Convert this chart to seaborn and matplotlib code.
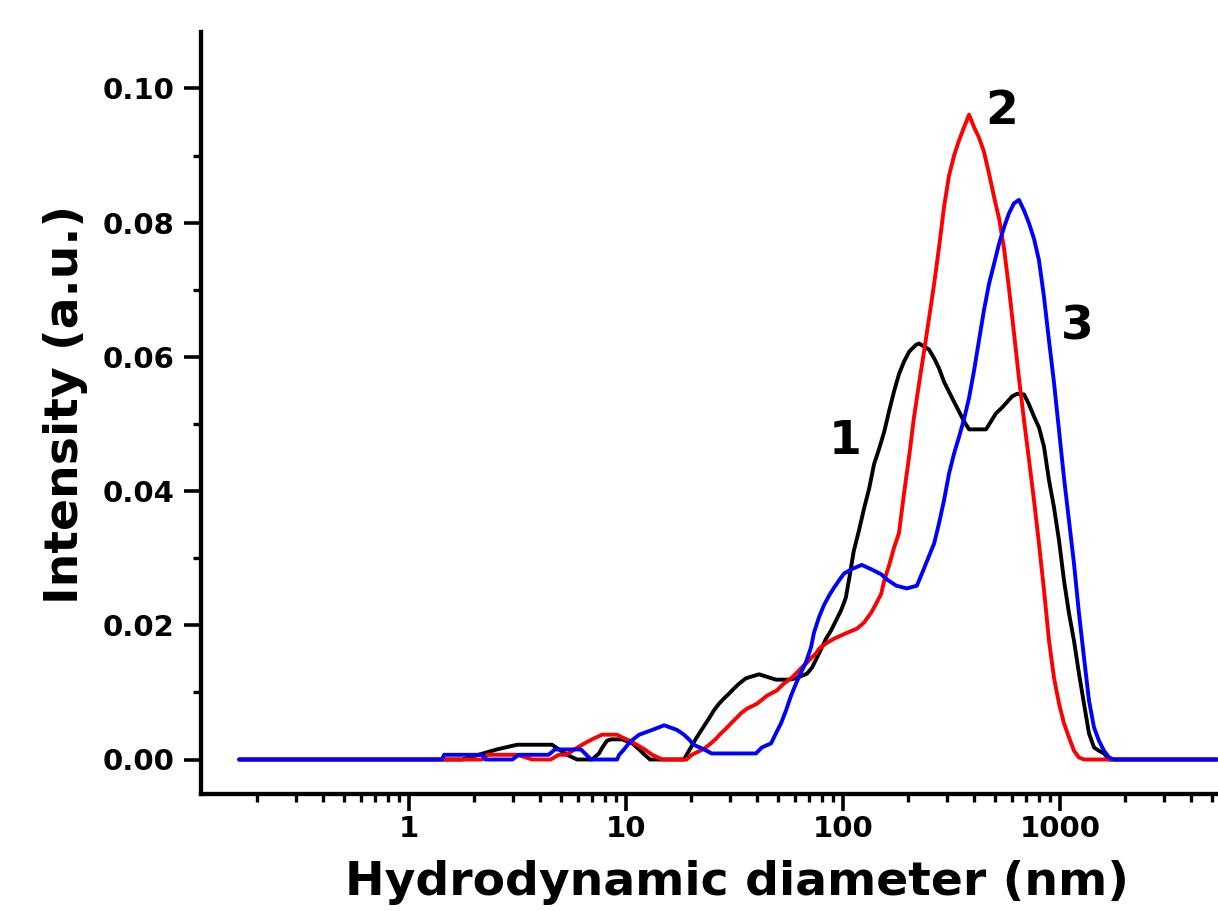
import numpy as np
import pandas as pd
import matplotlib
matplotlib.use("Agg")
import matplotlib.pyplot as plt
import matplotlib.ticker as mticker
import seaborn as sns

# ---------------- data ----------------
d1 = [0.165, 1.42, 1.76, 2.54, 3.15, 4.56, 5.35, 5.95, 6.97, 7.51,
      7.75, 8.17, 8.53, 9.6, 10.7, 11.5, 12.2, 12.9, 14.7, 18.5,
      19.5, 21.0, 22.9, 24.1, 25.4, 26.8, 28.3, 29.8, 31.5, 33.2,
      35.7, 41.0, 49.1, 56.4, 60.7, 68.3, 72.0, 77.5, 83.5, 88.0,
      92.8, 97.9, 103, 107, 112, 119, 125, 132, 139, 147,
      155, 163, 172, 181, 191, 202, 217, 224, 249, 263,
      277, 292, 308, 325, 342, 361, 381, 456, 481, 507,
      535, 564, 601, 634, 683, 720, 759, 800, 844, 890,
      938, 990, 1043, 1100, 1160, 1223, 1290, 1360, 1434, 1512,
      1595, 1682, 5300]
i1 = [0, 0, 0, 0.0015, 0.0022, 0.0022, 0.0007, 0, 0, 0.0009,
      0.0017, 0.0028, 0.0030, 0.0030, 0.0024, 0.0015, 0.0007, 0, 0, 0,
      0.0013, 0.0031, 0.0050, 0.0061, 0.0073, 0.0083, 0.0091, 0.0098, 0.0106, 0.0113,
      0.0121, 0.0127, 0.0119, 0.0119, 0.0121, 0.0128, 0.0137, 0.0158, 0.0180, 0.0192,
      0.0207, 0.0222, 0.0241, 0.0271, 0.0310, 0.0344, 0.0374, 0.0404, 0.0440, 0.0464,
      0.0489, 0.0519, 0.0549, 0.0574, 0.0593, 0.0608, 0.0618, 0.0620, 0.0611, 0.0598,
      0.0583, 0.0563, 0.0548, 0.0533, 0.0519, 0.0504, 0.0492, 0.0492, 0.0504, 0.0516,
      0.0523, 0.0531, 0.0541, 0.0545, 0.0544, 0.0529, 0.0511, 0.0495, 0.0466, 0.0416,
      0.0376, 0.0326, 0.0267, 0.0218, 0.0177, 0.0128, 0.0083, 0.0039, 0.0018, 0.0013,
      0.0009, 0, 0]

d2 = [0.165, 2.17, 2.30, 3.15, 3.7, 4.5, 4.9, 5.3, 6.27, 6.97,
      7.75, 9.09, 9.58, 10.4, 11.2, 12.2, 13.2, 14.7, 19.0, 20.1,
      22.9, 24.6, 26.0, 27.4, 28.9, 30.5, 32.1, 33.9, 36.2, 40.1,
      44.6, 49.6, 53.3, 57.6, 60.7, 64.1, 67.5, 71.2, 75.1, 77.5,
      83.5, 90.9, 103, 116, 125, 135, 142, 150, 155, 163,
      172, 181, 191, 202, 212, 224, 236, 249, 263, 277,
      292, 308, 325, 342, 361, 381, 402, 423, 446, 471,
      497, 524, 552, 582, 614, 647, 683, 720, 759, 800,
      844, 890, 938, 990, 1043, 1100, 1160, 1223, 1290, 5300]
i2 = [0, 0, 0.0007, 0.0007, 0, 0, 0.0007, 0.0007, 0.0022, 0.0030,
      0.0037, 0.0037, 0.0033, 0.0028, 0.0022, 0.0015, 0.0007, 0, 0, 0.0007,
      0.0016, 0.0024, 0.0031, 0.0039, 0.0046, 0.0054, 0.0061, 0.0069, 0.0076, 0.0083,
      0.0095, 0.0103, 0.0113, 0.0121, 0.0128, 0.0136, 0.0143, 0.0151, 0.0158, 0.0165,
      0.0173, 0.0180, 0.0188, 0.0195, 0.0204, 0.0219, 0.0232, 0.0247, 0.0267, 0.0289,
      0.0316, 0.0337, 0.0396, 0.0453, 0.0508, 0.0560, 0.0607, 0.0657, 0.0709, 0.0763,
      0.0823, 0.0870, 0.0900, 0.0922, 0.0942, 0.0961, 0.0942, 0.0927, 0.0906, 0.0873,
      0.0838, 0.0806, 0.0762, 0.0702, 0.0635, 0.0568, 0.0505, 0.0446, 0.0386, 0.0322,
      0.0252, 0.0177, 0.0122, 0.0083, 0.0054, 0.0033, 0.0013, 0.0003, 0, 0]

d3 = [0.165, 1.42, 1.45, 2.17, 2.25, 3.0, 3.2, 4.4, 4.7, 6.2,
      6.9, 9.1, 9.3, 9.8, 10.4, 11.5, 13.2, 15.0, 17.2, 18.5,
      19.5, 20.5, 22.9, 24.8, 39.7, 42.3, 46.6, 49.1, 51.8, 54.6,
      57.6, 60.7, 64.1, 67.5, 71.2, 73.5, 77.5, 81.7, 86.2, 90.9,
      95.9, 101, 110, 122, 136, 150, 160, 176, 197, 219,
      231, 244, 263, 277, 292, 308, 325, 342, 361, 381,
      402, 423, 446, 471, 497, 524, 552, 582, 614, 647,
      683, 720, 759, 800, 844, 890, 938, 990, 1043, 1100,
      1160, 1223, 1290, 1360, 1434, 1512, 1595, 1682, 1770, 5300]
i3 = [0, 0, 0.0007, 0.0007, 0, 0, 0.0007, 0.0007, 0.0015, 0.0015,
      0, 0, 0.0007, 0.0015, 0.0026, 0.0037, 0.0044, 0.0051, 0.0044, 0.0037,
      0.0030, 0.0022, 0.0015, 0.0009, 0.0009, 0.0018, 0.0024, 0.0039, 0.0054, 0.0073,
      0.0095, 0.0113, 0.0130, 0.0145, 0.0167, 0.0189, 0.0212, 0.0230, 0.0244, 0.0256,
      0.0267, 0.0277, 0.0284, 0.0290, 0.0283, 0.0276, 0.0268, 0.0259, 0.0255, 0.0259,
      0.0277, 0.0296, 0.0322, 0.0352, 0.0386, 0.0426, 0.0456, 0.0480, 0.0507, 0.0539,
      0.0580, 0.0624, 0.0669, 0.0709, 0.0739, 0.0769, 0.0793, 0.0814, 0.0829, 0.0834,
      0.0818, 0.0799, 0.0776, 0.0744, 0.0689, 0.0624, 0.0562, 0.0490, 0.0420, 0.0356,
      0.0292, 0.0218, 0.0152, 0.0088, 0.0048, 0.0028, 0.0013, 0.0003, 0, 0]

samples = ["1", "2", "3"]
colors = ["#000000", "#ff0000", "#0000ff"]
x_ticks = [1, 10, 100, 1000]
x_ticklabels = ["1", "10", "100", "1000"]
y_ticks = [0.00, 0.02, 0.04, 0.06, 0.08, 0.10]
y_ticklabels = ["0.00", "0.02", "0.04", "0.06", "0.08", "0.10"]
label_pos = {"1": (102, 0.0474), "2": (540, 0.0966), "3": (1198, 0.0645)}
x_label = "Hydrodynamic diameter (nm)"
y_label = "Intensity (a.u.)"

df = pd.concat([
    pd.DataFrame({"d": d1, "I": i1, "sample": "1"}),
    pd.DataFrame({"d": d2, "I": i2, "sample": "2"}),
    pd.DataFrame({"d": d3, "I": i3, "sample": "3"}),
], ignore_index=True)

# ---------------- style ----------------
sns.set_style("ticks")
plt.rcParams["font.family"] = ["DejaVu Sans"]
plt.rcParams["font.weight"] = "bold"
plt.rcParams["axes.labelcolor"] = "black"
plt.rcParams["text.color"] = "black"

W, H = 1218, 911
fig = plt.figure(figsize=(W / 100, H / 100), dpi=100)
ax = fig.add_axes([201 / W, 1 - 794 / H, 1 - 201 / W, (794 - 32) / H])

sns.lineplot(data=df, x="d", y="I", hue="sample", hue_order=samples,
             palette=dict(zip(samples, colors)), estimator=None, sort=False,
             linewidth=2.8, legend=False, ax=ax)

ax.set_xscale("log")
ax.set_xlim(10 ** ((201 - 409) / 217), 10 ** ((1218 - 409) / 217))
ax.set_ylim(-(794 - 759.5) / 6710, (759.5 - 32) / 6710)

ax.set_xticks(x_ticks)
ax.set_xticklabels(x_ticklabels)
ax.xaxis.set_minor_locator(mticker.LogLocator(base=10, subs=np.arange(2, 10)))
ax.xaxis.set_minor_formatter(mticker.NullFormatter())
ax.set_yticks(y_ticks)
ax.set_yticklabels(y_ticklabels)
ax.yaxis.set_minor_locator(mticker.MultipleLocator(0.01))

for s in ["top", "right"]:
    ax.spines[s].set_visible(False)
for s in ["left", "bottom"]:
    ax.spines[s].set_linewidth(3.1)
    ax.spines[s].set_color("black")

ax.tick_params(axis="both", which="major", direction="out", length=12.3, width=2.6,
               color="black", labelsize=21, labelcolor="black")
ax.tick_params(axis="both", which="minor", direction="out", length=5.6, width=2.4,
               color="black")
ax.tick_params(axis="y", which="major", pad=7)
ax.tick_params(axis="x", which="major", pad=3)
for lab in ax.get_xticklabels() + ax.get_yticklabels():
    lab.set_fontweight("bold")

ax.set_xlabel(x_label, fontsize=34, fontweight="bold", color="black")
ax.set_ylabel(y_label, fontsize=34, fontweight="bold", color="black")
ax.xaxis.set_label_coords((736.5 - 201) / 1017, (794 - 860) / 762)
ax.yaxis.set_label_coords((88 - 201) / 1017, (794 - 405) / 762)

for s, (xx, yy) in label_pos.items():
    ax.text(xx, yy, s, fontsize=34, fontweight="bold", ha="center", va="center",
            color="black")

ax.grid(False)
fig.savefig("out.png", dpi=100)
